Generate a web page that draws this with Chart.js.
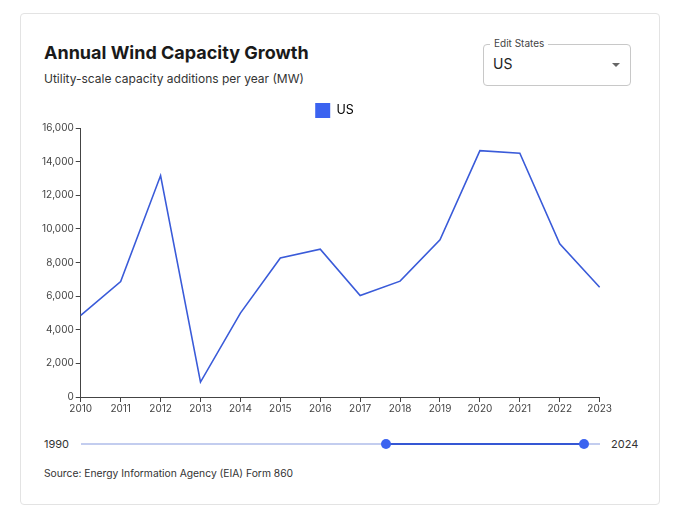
<!DOCTYPE html>
<html>
<head>
<meta charset="utf-8">
<script src="https://cdn.jsdelivr.net/npm/chart.js@4"></script>
<style>
  body { margin: 0; background: #fff; font-family: Inter, "Noto Sans", sans-serif; }
  .card { position: absolute; left: 20px; top: 13px; width: 638px; height: 490px; border: 1px solid #e3e3e3; border-radius: 4px; background: #fff; }
  .title { position: absolute; left: 23px; top: 28px; font-size: 18px; font-weight: 700; color: #1a1a1a; }
  .sub { position: absolute; left: 23px; top: 57px; font-size: 12px; color: #333; }
  .select { position: absolute; left: 462px; top: 30px; width: 146px; height: 40px; border: 1px solid #c8c8c8; border-radius: 4px; }
  .select .lab { position: absolute; left: 6px; top: -8px; background: #fff; padding: 0 4px; font-size: 10px; color: #444; }
  .select .val { position: absolute; left: 9px; top: 10px; font-size: 14px; color: #222; }
  .select .caret { position: absolute; right: 10px; top: 18px; width: 0; height: 0; border-left: 4px solid transparent; border-right: 4px solid transparent; border-top: 4px solid #666; }
  .chartbox { position: absolute; left: 19px; top: 78px; width: 573px; height: 324px; }
  .yr { position: absolute; top: 423px; font-size: 11px; color: #333; }
  .track { position: absolute; left: 60px; top: 429px; width: 519px; height: 2px; background: #c3cdef; }
  .active { position: absolute; left: 365px; top: 429px; width: 198px; height: 2px; background: #3557d4; }
  .thumb { position: absolute; top: 425px; width: 10px; height: 10px; border-radius: 50%; background: #3b63f0; }
  .src { position: absolute; left: 23px; top: 453px; font-size: 10.3px; color: #333; }
</style>
</head>
<body>
<div class="card">
  <div class="title">Annual Wind Capacity Growth</div>
  <div class="sub">Utility-scale capacity additions per year (MW)</div>
  <div class="select"><span class="lab">Edit States</span><span class="val">US</span><span class="caret"></span></div>
  <div class="chartbox"><canvas id="chart"></canvas></div>
  <div class="yr" style="left:23px">1990</div>
  <div class="track"></div>
  <div class="active"></div>
  <div class="thumb" style="left:360px"></div>
  <div class="thumb" style="left:558px"></div>
  <div class="yr" style="left:590px">2024</div>
  <div class="src">Source: Energy Information Agency (EIA) Form 860</div>
</div>
<script>
const years = ["2010", "2011", "2012", "2013", "2014", "2015", "2016", "2017", "2018", "2019", "2020", "2021", "2022", "2023"];
const usAdded = [4850, 6870, 13170, 890, 4990, 8270, 8790, 6040, 6890, 9350, 14650, 14500, 9110, 6530];

// legend sits a bit right of the canvas centre in the original
const nudgeLegend = {
  id: "nudgeLegend",
  afterLayout(chart) {
    chart.legend.left += 10;
    chart.legend.right += 10;
  },
};

const ctx = document.getElementById("chart").getContext("2d");
const chart = new Chart(ctx, {
  type: "line",
  plugins: [nudgeLegend],
  data: {
    labels: years,
    datasets: [
      {
        label: "US",
        data: usAdded,
        borderColor: "#3a5bd9",
        backgroundColor: "#3b63f0",
        borderWidth: 1.6,
        pointRadius: 0,
        tension: 0,
      },
    ],
  },
  options: {
    responsive: true,
    maintainAspectRatio: false,
    animation: false,
    layout: { padding: { left: 0, right: 4, top: 0, bottom: 0 } },
    plugins: {
      tooltip: { enabled: false },
      legend: {
        labels: {
          boxWidth: 15,
          boxHeight: 15,
          padding: 11,
          color: "#333",
          font: { family: "Inter", size: 12.5 },
          generateLabels: (c) => [{ text: "US", fillStyle: "#3b63f0", strokeStyle: "#3b63f0", lineWidth: 0 }],
        },
      },
    },
    scales: {
      x: {
        offset: false,
        grid: { display: true, drawOnChartArea: false, drawTicks: true, tickLength: 5, color: "#444" },
        border: { display: true, color: "#444", width: 1 },
        ticks: { color: "#444", font: { family: "Inter", size: 10 }, maxRotation: 0, padding: 1 },
      },
      y: {
        min: 0,
        max: 16000,
        grid: { display: true, drawOnChartArea: false, drawTicks: true, tickLength: 5, color: "#444" },
        border: { display: true, color: "#444", width: 1 },
        ticks: { stepSize: 2000, color: "#444", font: { family: "Inter", size: 10 }, padding: 2 },
      },
    },
  },
});
</script>
</body>
</html>
